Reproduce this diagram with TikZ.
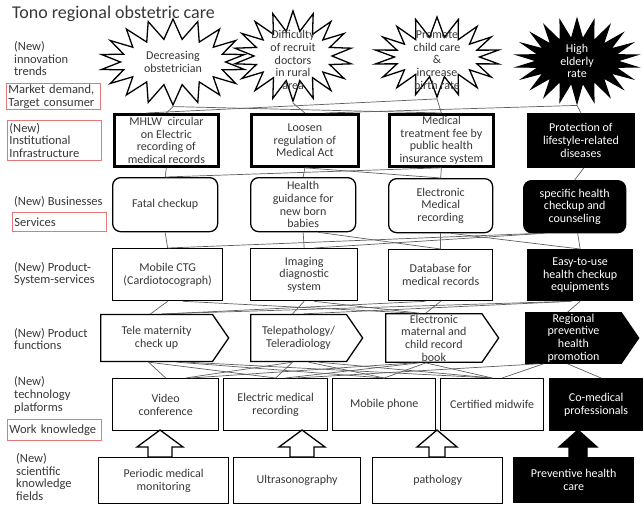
\documentclass[tikz,border=0pt]{standalone}
\usepackage{fontspec}
\setmainfont{Carlito}
\usetikzlibrary{shapes.symbols,shapes.arrows,calc}
\definecolor{ink}{RGB}{55,55,55}
\definecolor{frame}{RGB}{226,120,120}
\definecolor{wire}{RGB}{95,95,95}

\begin{document}
\begin{tikzpicture}[x=1pt,y=-1pt,
  txt/.style={font=\fontsize{12}{12.7}\selectfont, text=ink, align=center, inner sep=1pt},
  lab/.style={font=\fontsize{12.5}{12.8}\selectfont, text=ink, align=left, anchor=west, inner sep=0pt},
  redlab/.style={draw=frame, line width=0.8pt, font=\fontsize{12.5}{12.8}\selectfont, text=ink,
    align=left, anchor=north west, inner xsep=2pt, inner ysep=0pt, text width=90pt},
  burst/.style={starburst, draw, line width=1.3pt, fill=white, starburst points=18,
    starburst point height=20pt, random starburst=0, inner sep=0pt},
  box/.style={txt, draw, line width=1.3pt, anchor=north west},
  inst/.style={box, line width=2.8pt},
  svc/.style={box, rounded corners=8pt},
  func/.style={txt, draw, line width=1.3pt, signal, signal to=east, signal pointer angle=111,
    anchor=west},
  dark/.style={fill=black, text=white},
  link/.style={draw=wire, line width=0.7pt},
  upblock/.style={draw, line width=1.3pt, fill=white, line join=miter}
]
\useasboundingbox (0,0) rectangle (644,505);

% title
\node[anchor=west, inner sep=0pt, font=\fontsize{18}{20}\selectfont, text=ink] (title) at (12,14)
  {Tono regional obstetric care};

% row labels on the left
\node[lab, anchor=north west] (l1) at (14,41) {(New)\\innovation\\trends};
\node[redlab, minimum height=26pt] (l2) at (6,83) {Market demand,\\Target consumer};
\node[redlab, minimum height=40pt] (l3) at (7,120) {(New)\\Institutional\\Infrastructure};
\node[lab] (l4) at (14,202) {(New) Businesses};
\node[redlab, minimum height=19pt] (l5) at (12,212) {Services};
\node[lab] (l6) at (14,274) {(New) Product-\\System-services};
\node[lab] (l7) at (14,339) {(New) Product\\functions};
\node[lab] (l8) at (14,395) {(New)\\technology\\platforms};
\node[redlab, minimum height=21pt] (l9) at (7,419) {Work knowledge};
\node[lab] (l10) at (16,477) {(New)\\scientific\\knowledge\\fields};

% innovation trends
\node[burst, minimum width=145pt, minimum height=86pt] (s1) at (173,62) {};
\node[burst, minimum width=118pt, minimum height=90pt] (s2) at (293,56) {};
\node[burst, minimum width=125pt, minimum height=80pt] (s3) at (437,57) {};
\node[burst, dark, starburst points=22, minimum width=120pt, minimum height=84pt] (s4) at (577,61) {};
\node[txt] (s1t) at (173,62) {Decreasing\\obstetrician};
\node[txt] (s2t) at (293,60) {Difficulty\\of recruit\\doctors\\in rural\\area};
\node[txt] (s3t) at (437,60) {Promote\\child care\\\&\\increase\\birth rate};
\node[txt, text=white] (s4t) at (577,61) {High\\elderly\\rate};

% institutional infrastructure
\node[inst, minimum width=104pt, minimum height=52pt] (A) at (113,113) {MHLW\ \ circular\\on Electric\\recording of\\medical records};
\node[inst, minimum width=107pt, minimum height=52pt] (B) at (250,113) {Loosen\\regulation of\\Medical Act};
\node[inst, minimum width=104pt, minimum height=52pt] (C) at (388,113) {Medical\\treatment fee by\\public health\\insurance system};
\node[inst, dark, minimum width=105pt, minimum height=52pt] (D) at (527,113) {Protection of\\lifestyle-related\\diseases};

% businesses / services
\node[svc, minimum width=105pt, minimum height=54pt] (E) at (112,177) {Fatal checkup};
\node[svc, minimum width=105pt, minimum height=54pt] (F) at (250,177) {Health\\guidance for\\new born\\babies};
\node[svc, minimum width=104pt, minimum height=54pt] (G) at (388,178) {Electronic\\Medical\\recording};
\node[svc, dark, minimum width=102pt, minimum height=52pt] (H) at (523,180) {specific health\\checkup and\\counseling};

% product-system-services
\node[box, minimum width=110pt, minimum height=52pt] (I) at (112,248) {Mobile CTG\\(Cardiotocograph)};
\node[box, minimum width=107pt, minimum height=52pt] (J) at (250,248) {Imaging\\diagnostic\\system};
\node[box, minimum width=104pt, minimum height=51pt] (K) at (388,249) {Database for\\medical records};
\node[box, dark, minimum width=105pt, minimum height=51pt] (L) at (527,249) {Easy-to-use\\health checkup\\equipments};

% product functions
\node[func, minimum width=128pt, minimum height=47pt] (M) at (100,338) {Tele maternity\\check up};
\node[func, minimum width=112pt, minimum height=47pt] (N) at (250,338) {Telepathology/\\Teleradiology};
\node[func, minimum width=113pt, minimum height=47pt] (O) at (385,338) {Electronic\\maternal and\\child record\\book};
\node[func, dark, minimum width=113pt, minimum height=47pt] (P) at (525,338) {Regional\\preventive\\health\\promotion};

% technology platforms / work knowledge
\node[box, minimum width=106pt, minimum height=52pt] (Q) at (112,378) {Video\\conference};
\node[box, minimum width=104pt, minimum height=52pt] (R) at (223,378) {Electric medical\\recording};
\node[box, minimum width=103pt, minimum height=52pt] (S) at (332,378) {Mobile phone};
\node[box, minimum width=103pt, minimum height=52pt] (T) at (440,378) {Certified midwife};
\node[box, dark, minimum width=93pt, minimum height=52pt] (U) at (549,378) {Co-medical\\professionals};

% scientific knowledge fields
\node[box, minimum width=130pt, minimum height=46pt] (V) at (98,457) {Periodic medical\\monitoring};
\node[box, minimum width=127pt, minimum height=46pt] (W) at (233,457) {Ultrasonography};
\node[box, minimum width=130pt, minimum height=46pt] (X) at (372,457) {pathology};
\node[box, dark, minimum width=120pt, minimum height=45pt] (Y) at (513,457) {Preventive health\\care};

% links: trends -> infrastructure
\draw[link] (s1.south) -- (A.north);
\draw[link] (s1.south) -- (C.north);
\draw[link] (s2.south) -- (B.north);
\draw[link] (s3.south) -- (C.north);
\draw[link] (s3.south) -- ([xshift=-20pt]A.north);
\draw[link] (s4.south) -- (D.north);
\draw[link] (s4.south) -- ([xshift=20pt]B.north);

% infrastructure -> services
\draw[link] (A.south) -- (E.north);
\draw[link] (B.south) -- (F.north);
\draw[link] (B.south) -- (G.north);
\draw[link] (C.south) -- (G.north);
\draw[link] (C.south) -- (E.north);
\draw[link] ([xshift=3pt]D.south) -- (H.north);

% services -> product-system-services
\draw[link] (E.south) -- (I.north);
\draw[link] (F.south) -- (J.north);
\draw[link] ([xshift=15pt]F.south) -- (K.north);
\draw[link] (G.south) -- (K.north);
\draw[link] ([xshift=10pt]G.south) -- (L.north);
\draw[link] ([xshift=3pt]H.south) -- (L.north);
\draw[link] ([xshift=-35pt]H.south) -- (I.north);
\draw[link] ([xshift=-30pt]H.south) -- ([xshift=10pt]J.north);

% product-system-services -> functions
\draw[link] (I.south) -- ([xshift=-6pt]M.north);
\draw[link] (J.south) -- ([xshift=-6pt]N.north);
\draw[link] (K.south) -- ([xshift=-8pt]O.north);
\draw[link] (L.south) -- ([xshift=-6pt]P.north);
\draw[link] ([xshift=15pt]I.south) -- ([xshift=-20pt]O.north);
\draw[link] ([xshift=10pt]J.south) -- ([xshift=-15pt]O.north);
\draw[link] ([xshift=-15pt]K.south) -- ([xshift=10pt]M.north);
\draw[link] ([xshift=-10pt]L.south) -- ([xshift=5pt]M.north);
\draw[link] ([xshift=-8pt]L.south) -- ([xshift=5pt]N.north);

% functions -> platforms
\draw[link] ([xshift=-8pt]M.south) -- (Q.north);
\draw[link] ([xshift=-8pt]M.south) -- (R.north);
\draw[link] ([xshift=20pt]M.south) -- (S.north);
\draw[link] ([xshift=30pt]M.south) -- (T.north);
\draw[link] ([xshift=-6pt]N.south) -- (R.north);
\draw[link] ([xshift=-6pt]N.south) -- ([xshift=20pt]Q.north);
\draw[link] ([xshift=10pt]N.south) -- (S.north);
\draw[link] ([xshift=20pt]N.south) -- (T.north);
\draw[link] ([xshift=-8pt]O.south) -- (S.north);
\draw[link] ([xshift=-8pt]O.south) -- (T.north);
\draw[link] ([xshift=-15pt]O.south) -- ([xshift=10pt]R.north);
\draw[link] ([xshift=-20pt]O.south) -- ([xshift=25pt]Q.north);
\draw[link] ([xshift=-6pt]P.south) -- ([xshift=5pt]U.north);
\draw[link] ([xshift=-30pt]P.south) -- ([xshift=10pt]T.north);
\draw[link] ([xshift=-35pt]P.south) -- ([xshift=20pt]R.north);

% knowledge fields feed the platforms
\coordinate (a1) at (160,430);
\coordinate (a2) at (302,430);
\coordinate (a3) at (437,430);
\coordinate (a4) at (578,430);
\draw[upblock] (a1) -- ++(23,17) -- ++(-11,0) -- ($(a1 |- V.north)+(12,0)$) -- ($(a1 |- V.north)+(-12,0)$) -- ($(a1)+(-12,17)$) -- ($(a1)+(-23,17)$) -- cycle;
\draw[upblock] (a2) -- ++(23,17) -- ++(-11,0) -- ($(a2 |- W.north)+(12,0)$) -- ($(a2 |- W.north)+(-12,0)$) -- ($(a2)+(-12,17)$) -- ($(a2)+(-23,17)$) -- cycle;
\draw[upblock] (a3) -- ++(20,17) -- ++(-12,0) -- ($(a3 |- X.north)+(8,0)$) -- ($(a3 |- X.north)+(-8,0)$) -- ($(a3)+(-8,17)$) -- ($(a3)+(-20,17)$) -- cycle;
\draw[upblock, fill=black] (a4) -- ++(19,17) -- ++(-10,0) -- ($(a4 |- Y.north)+(9,0)$) -- ($(a4 |- Y.north)+(-9,0)$) -- ($(a4)+(-9,17)$) -- ($(a4)+(-19,17)$) -- cycle;
\end{tikzpicture}
\end{document}
